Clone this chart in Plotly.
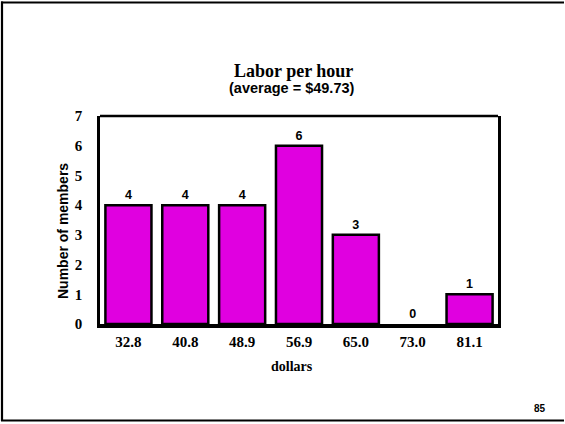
import plotly.graph_objects as go

categories = ["32.8", "40.8", "48.9", "56.9", "65.0", "73.0", "81.1"]
members = [4, 4, 4, 6, 3, 0, 1]
y_ticks = [0, 1, 2, 3, 4, 5, 6, 7]

SERIF = "Liberation Serif, Times New Roman, serif"
SANS = "Liberation Sans, Arial, sans-serif"


def px_x(p):
    return (p - 100) / 398


def px_y(p):
    return (324 - p) / 208


frame = dict(color="black", width=2.2)

fig = go.Figure()
fig.add_trace(go.Bar(
    x=categories,
    y=members,
    text=[str(v) for v in members],
    textposition="outside",
    cliponaxis=False,
    textfont=dict(family=SANS, size=12.5, color="black", weight="bold"),
    marker=dict(color="#e000e0",
                line=dict(color="black", width=[2.5 if v > 0 else 0 for v in members])),
))

fig.update_layout(
    width=565, height=424,
    margin=dict(l=100, r=67, t=116, b=100),
    paper_bgcolor="white", plot_bgcolor="white",
    showlegend=False,
    bargap=0.19,
    xaxis=dict(
        type="category",
        showline=True, linecolor="black", linewidth=4,
        showgrid=False, ticks="", ticklabelstandoff=1,
        tickfont=dict(family=SERIF, size=15, color="black", weight="bold"),
    ),
    yaxis=dict(
        range=[0, 7], tickvals=y_ticks,
        showline=True, linecolor="black", linewidth=2.5, mirror=True,
        showgrid=False, zeroline=False, ticks="", ticklabelstandoff=12,
        tickfont=dict(family=SERIF, size=15, color="black", weight="bold"),
    ),
    shapes=[
        dict(type="line", xref="paper", yref="paper", x0=0, x1=1, y0=1, y1=1,
             line=dict(color="black", width=2.5)),
        # outer slide frame: left, top, bottom
        dict(type="line", xref="paper", yref="paper",
             x0=px_x(2), x1=px_x(2), y0=px_y(1.5), y1=px_y(421),
             line=frame),
        dict(type="line", xref="paper", yref="paper",
             x0=px_x(1), x1=px_x(564), y0=px_y(2.5), y1=px_y(2.5),
             line=frame),
        dict(type="line", xref="paper", yref="paper",
             x0=px_x(1), x1=px_x(564), y0=px_y(420.5), y1=px_y(420.5),
             line=frame),
    ],
    annotations=[
        dict(text="Labor per hour", xref="paper", yref="paper",
             x=px_x(293.6), y=px_y(70.5),
             showarrow=False, xanchor="center", yanchor="middle",
             font=dict(family=SERIF, size=18, color="black", weight="bold")),
        dict(text="(average = $49.73)", xref="paper", yref="paper",
             x=px_x(291.5), y=px_y(88.5),
             showarrow=False, xanchor="center", yanchor="middle",
             font=dict(family=SANS, size=14.5, color="black", weight="bold")),
        dict(text="Number of members", xref="paper", yref="paper",
             x=px_x(63), y=px_y(231), textangle=-90,
             showarrow=False, xanchor="center", yanchor="middle",
             font=dict(family=SANS, size=14, color="black", weight="bold")),
        dict(text="dollars", xref="paper", yref="paper",
             x=px_x(292), y=px_y(366),
             showarrow=False, xanchor="center", yanchor="middle",
             font=dict(family=SERIF, size=14, color="black", weight="bold")),
        dict(text="85", xref="paper", yref="paper",
             x=px_x(540), y=px_y(408),
             showarrow=False, xanchor="center", yanchor="middle",
             font=dict(family=SANS, size=10, color="black", weight="bold")),
    ],
)

fig.write_html("out.html", config={"displayModeBar": False},
               post_script="document.body.style.margin='0';document.body.style.overflow='hidden';")
